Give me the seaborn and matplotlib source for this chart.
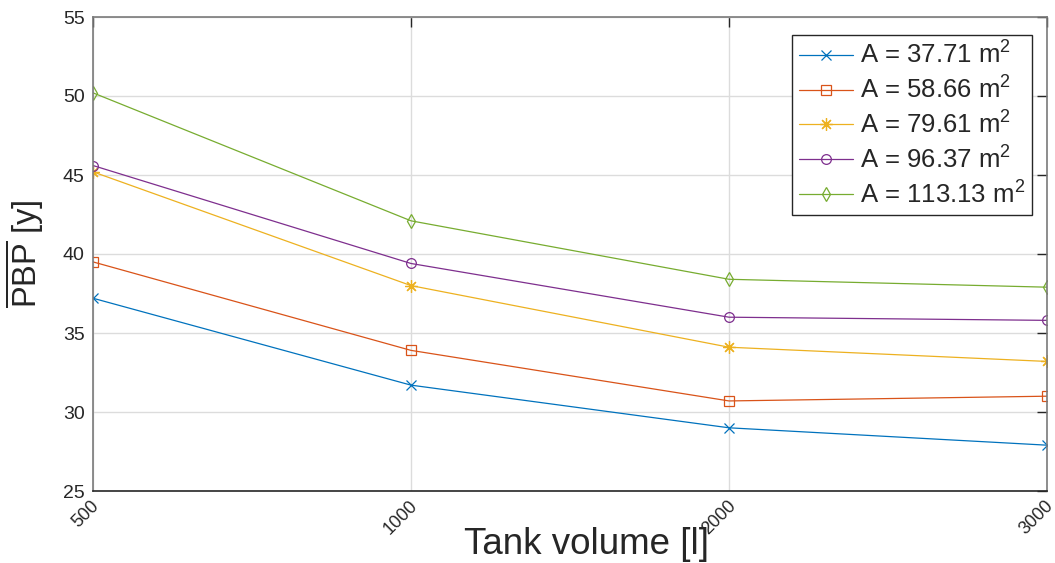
import matplotlib
matplotlib.use("Agg")
import matplotlib.pyplot as plt
import matplotlib.transforms as mtransforms
import numpy as np
import pandas as pd
import seaborn as sns

# Tank volumes (litres) shown as evenly spaced categories
tank_volumes = ["500", "1000", "2000", "3000"]

# Collector areas (m^2)
areas = ["37.71", "58.66", "79.61", "96.37", "113.13"]

# Mean payback period (years) for each collector area
pbp_a1 = [37.2, 31.7, 29.0, 27.9]
pbp_a2 = [39.5, 33.9, 30.7, 31.0]
pbp_a3 = [45.2, 38.0, 34.1, 33.2]
pbp_a4 = [45.6, 39.4, 36.0, 35.8]
pbp_a5 = [50.2, 42.1, 38.4, 37.9]

series = [pbp_a1, pbp_a2, pbp_a3, pbp_a4, pbp_a5]
colors = ["#0072BD", "#D95319", "#EDB120", "#7E2F8E", "#77AC30"]
markers = ["x", "s", (8, 2, 0), "o", "d"]
msizes = [7, 7, 9, 7, 7]

sns.set_theme(style="white")
plt.rcParams["font.family"] = ["Liberation Sans", "DejaVu Sans"]
plt.rcParams["mathtext.fontset"] = "custom"
plt.rcParams["mathtext.rm"] = "Liberation Sans"
plt.rcParams["mathtext.it"] = "Liberation Sans:italic"
plt.rcParams["mathtext.bf"] = "Liberation Sans:bold"

fig = plt.figure(figsize=(10.55, 5.63), dpi=100)
ax = fig.add_axes([93 / 1055, 1 - 491 / 563, (1047 - 93) / 1055, (491 - 17) / 563])

pos = np.arange(len(tank_volumes))
for vals, area, col, mk, ms in zip(series, areas, colors, markers, msizes):
    df = pd.DataFrame({"pos": pos, "pbp": vals})
    sns.lineplot(
        data=df, x="pos", y="pbp", ax=ax, color=col, marker=mk,
        markersize=ms, markerfacecolor="none",
        markeredgecolor=col, markeredgewidth=0.9, linewidth=0.9,
        label=f"A = {area} m$^2$",
    )

ax.set_xlim(0, len(tank_volumes) - 1)
ax.set_ylim(25, 55)
ax.set_yticks(np.arange(25, 56, 5))
ax.set_xticks(pos)

ax.grid(True, color="#dcdcdc", linewidth=1.0)
ax.set_axisbelow(True)
ax.tick_params(axis="both", which="both", direction="in", length=7, width=1,
               colors="#262626", labelsize=14, top=True, right=True,
               labelcolor="#262626")
ax.tick_params(axis="y", pad=6)
ax.tick_params(axis="x", pad=7, labelsize=13)

# Rotated category labels, nudged so their upper end sits just right of the tick
ax.set_xticklabels(tank_volumes, rotation=45, ha="right", va="center",
                   rotation_mode="anchor")
shift = mtransforms.ScaledTranslation(4 / 100, -3 / 100, fig.dpi_scale_trans)
for lbl in ax.get_xticklabels():
    lbl.set_transform(lbl.get_transform() + shift)

for side in ["left", "right", "top"]:
    ax.spines[side].set_color("#7a7a7a")
    ax.spines[side].set_linewidth(1.2)
ax.spines["bottom"].set_color("#262626")
ax.spines["bottom"].set_linewidth(1.2)

ax.set_xlabel("Tank volume [l]", fontsize=26.5, color="#262626")
ax.xaxis.set_label_coords((586 - 93) / 954, -(554 - 491) / 474, transform=ax.transAxes)
ax.xaxis.label.set_va("baseline")
ax.set_ylabel(r"$\overline{\mathrm{PBP}}$ [y]", fontsize=23.5, color="#262626",
              labelpad=12)

leg = ax.legend(loc="upper right", bbox_to_anchor=((1032 - 93) / 954, (491 - 35) / 474),
                borderaxespad=0, fontsize=18.5, frameon=True, fancybox=False,
                framealpha=1, edgecolor="#262626", handlelength=2.1,
                handletextpad=0.3, borderpad=0.25, labelspacing=0.3)
leg.get_frame().set_linewidth(1.0)

fig.savefig("out.png", dpi=100)
